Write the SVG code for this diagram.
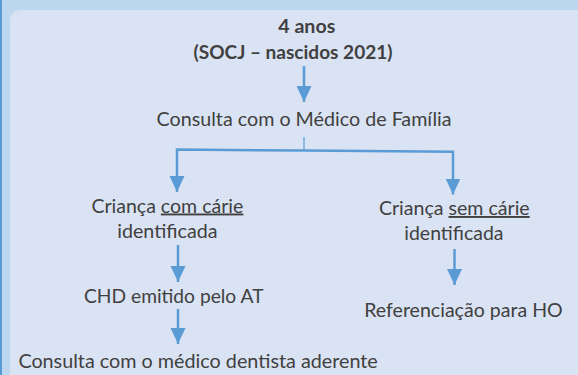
<svg xmlns="http://www.w3.org/2000/svg" width="578" height="375" viewBox="0 0 578 375">
  <defs>
    <style>
      .t { font-family: Lato, "Open Sans", "Liberation Sans", sans-serif; font-size: 19px; fill: #404040; }
      .b { font-weight: bold; }
      .u { text-decoration: underline; }
      .c { fill: none; stroke: #5b9bd5; stroke-width: 2.5; }
      .thin { fill: none; stroke: #5b9bd5; stroke-width: 1.2; }
    </style>
    <marker id="ah" viewBox="0 -8 16 16" refX="16" refY="0" markerWidth="16" markerHeight="16" markerUnits="userSpaceOnUse" orient="auto">
      <path d="M0,-7.5 L16,0 L0,7.5 z" fill="#5b9bd5"/>
    </marker>
  </defs>

  <!-- background -->
  <rect x="0" y="0" width="578" height="375" fill="#bdd7ee"/>
  <rect x="0" y="0" width="2" height="375" fill="#5b9bd5"/>
  <path d="M10,375 V22 Q10,10 22,10 H578 V375 Z" fill="#dae3f3"/>

  <!-- nodes -->
  <g id="n-start">
    <text class="t b" x="278.3" y="33" textLength="57" lengthAdjust="spacingAndGlyphs">4 anos</text>
    <text class="t b" x="193.5" y="59" textLength="199" lengthAdjust="spacingAndGlyphs">(SOCJ – nascidos 2021)</text>
  </g>
  <g id="n-mf">
    <text class="t" x="156.6" y="126" textLength="295" lengthAdjust="spacingAndGlyphs">Consulta com o Médico de Família</text>
  </g>
  <g id="n-com">
    <text class="t" x="91.4" y="212.5" textLength="152" lengthAdjust="spacingAndGlyphs">Criança <tspan class="u">com cárie</tspan></text>
    <text class="t" x="117.2" y="238" textLength="100.3" lengthAdjust="spacingAndGlyphs">identificada</text>
  </g>
  <g id="n-sem">
    <text class="t" x="378.9" y="215" textLength="150.8" lengthAdjust="spacingAndGlyphs">Criança <tspan class="u">sem cárie</tspan></text>
    <text class="t" x="404.3" y="240" textLength="99.2" lengthAdjust="spacingAndGlyphs">identificada</text>
  </g>
  <g id="n-chd">
    <text class="t" x="84" y="303.3" textLength="179.5" lengthAdjust="spacingAndGlyphs">CHD emitido pelo AT</text>
  </g>
  <g id="n-ho">
    <text class="t" x="364.2" y="316.7" textLength="198.6" lengthAdjust="spacingAndGlyphs">Referenciação para HO</text>
  </g>
  <g id="n-dent">
    <text class="t" x="18.4" y="367.7" textLength="359.4" lengthAdjust="spacingAndGlyphs">Consulta com o médico dentista aderente</text>
  </g>

  <!-- connectors -->
  <g id="connectors">
    <line class="c" x1="304" y1="66" x2="304" y2="102" marker-end="url(#ah)"/>
    <line class="thin" x1="304" y1="137" x2="304" y2="150.6"/>
    <path class="c" d="M304,150.6 L177,149.5 L177,192" marker-end="url(#ah)"/>
    <path class="c" d="M304,150.6 L453,151.7 L453,194.5" marker-end="url(#ah)"/>
    <line class="c" x1="178" y1="245" x2="178" y2="282" marker-end="url(#ah)"/>
    <line class="c" x1="454.5" y1="249" x2="454.5" y2="285" marker-end="url(#ah)"/>
    <line class="c" x1="178" y1="309" x2="178" y2="344" marker-end="url(#ah)"/>
  </g>
</svg>
